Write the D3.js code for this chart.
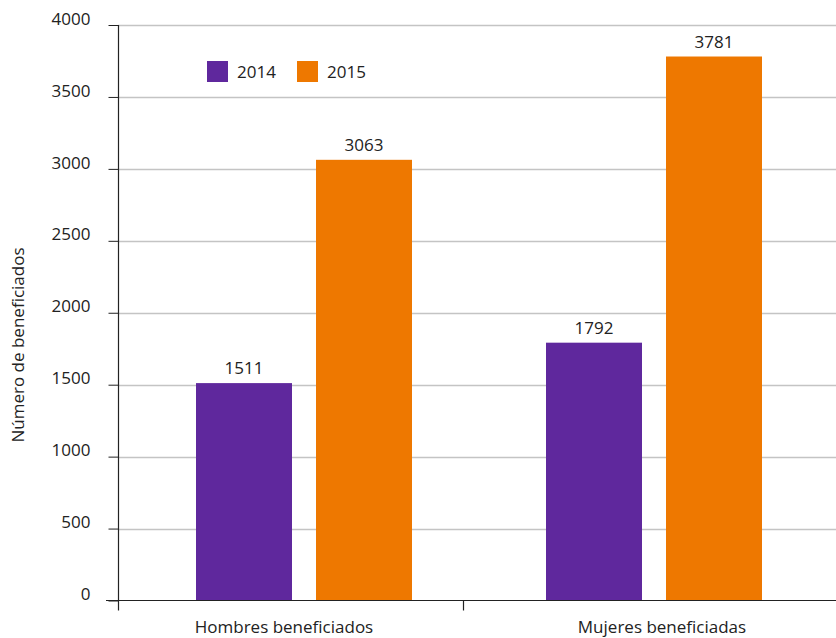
<!DOCTYPE html>
<html>
<head>
<meta charset="utf-8">
<script src="https://cdn.jsdelivr.net/npm/d3@7"></script>
<style>
  html, body { margin: 0; padding: 0; background: #ffffff; }
  svg { display: block; font-family: "Open Sans", "Noto Sans", sans-serif; }
</style>
</head>
<body>
<svg id="chart" width="836" height="638"></svg>
<script>
// Beneficiaries by sex, 2014 vs 2015
const categories = ["Hombres beneficiados", "Mujeres beneficiadas"];
const years = ["2014", "2015"];
const values2014 = [1511, 1792];
const values2015 = [3063, 3781];
const yTicks = [0, 500, 1000, 1500, 2000, 2500, 3000, 3500, 4000];
const colors = ["#5f289d", "#ee7800"];
const yTitle = "Número de beneficiados";

const series = [values2014, values2015];
const svg = d3.select("#chart");
const fs = 17;

const axisX = 118, baseY = 600.5, topY = 25;

const y = d3.scaleLinear().domain([0, 4000]).range([baseY, topY]);

// category bands used for the bar groups
const x0 = d3.scaleBand().domain(categories).range([129, 829]);
const groupWidth = 216;
const x1 = d3.scaleBand().domain(years).range([0, groupWidth]).paddingInner(0.2);
// bands used for the category separators on the axis
const xSep = d3.scaleBand().domain(categories).range([axisX, 808]);
// category label anchors
const xLabel = d3.scalePoint().domain(categories).range([284, 662]);

// gridlines
svg.append("g")
  .selectAll("line")
  .data(yTicks.filter(t => t > 0))
  .join("line")
  .attr("x1", axisX).attr("x2", 836)
  .attr("y1", d => Math.round(y(d)) + 0.5).attr("y2", d => Math.round(y(d)) + 0.5)
  .attr("stroke", "#c4c4c4").attr("stroke-width", 1.5);

// y axis
const yAxis = d3.axisLeft(y).tickValues(yTicks).tickSize(10).tickPadding(18).tickFormat(d3.format("d"));
const gy = svg.append("g").attr("transform", `translate(${axisX + 0.5},0)`).call(yAxis);
gy.select(".domain").remove();
gy.selectAll(".tick line").attr("stroke", "#222");
gy.selectAll(".tick text")
  .attr("fill", "#222").attr("font-size", fs).attr("dy", "-0.05em")
  .attr("font-family", "Open Sans, Noto Sans, sans-serif");
svg.append("line")
  .attr("x1", axisX + 0.5).attr("x2", axisX + 0.5)
  .attr("y1", topY).attr("y2", baseY + 10)
  .attr("stroke", "#222").attr("stroke-width", 1.2);

// bars
const groups = svg.append("g")
  .selectAll("g")
  .data(categories)
  .join("g")
  .attr("transform", c => `translate(${x0(c) + (x0.bandwidth() - groupWidth) / 2},0)`);

groups.selectAll("rect")
  .data((c, i) => years.map((yr, j) => ({ yr, j, v: series[j][i] })))
  .join("rect")
  .attr("x", d => x1(d.yr))
  .attr("width", x1.bandwidth())
  .attr("y", d => y(d.v))
  .attr("height", d => baseY - y(d.v))
  .attr("fill", d => colors[d.j]);

groups.selectAll("text")
  .data((c, i) => years.map((yr, j) => ({ yr, j, v: series[j][i] })))
  .join("text")
  .attr("x", d => x1(d.yr) + x1.bandwidth() / 2)
  .attr("y", d => y(d.v) - 9)
  .attr("text-anchor", "middle")
  .attr("font-size", fs)
  .attr("fill", "#222")
  .text(d => d.v);

// baseline and category separators
svg.append("line")
  .attr("x1", 106).attr("x2", 836)
  .attr("y1", baseY).attr("y2", baseY)
  .attr("stroke", "#222").attr("stroke-width", 1.2);
svg.append("g")
  .selectAll("line")
  .data(categories.slice(1))
  .join("line")
  .attr("x1", c => xSep(c) + 0.5).attr("x2", c => xSep(c) + 0.5)
  .attr("y1", baseY).attr("y2", baseY + 10)
  .attr("stroke", "#222").attr("stroke-width", 1.2);

// category labels
svg.append("g")
  .selectAll("text")
  .data(categories)
  .join("text")
  .attr("x", c => xLabel(c))
  .attr("y", 633)
  .attr("text-anchor", "middle")
  .attr("font-size", fs)
  .attr("fill", "#222")
  .text(c => c);

// y axis title
svg.append("text")
  .attr("transform", "translate(24,345) rotate(-90)")
  .attr("text-anchor", "middle")
  .attr("font-size", fs)
  .attr("fill", "#222")
  .text(yTitle);

// legend
const legend = svg.append("g").attr("transform", "translate(207,61)");
const legendX = d3.scalePoint().domain(years).range([0, 90]);
const li = legend.selectAll("g").data(years).join("g")
  .attr("transform", yr => `translate(${legendX(yr)},0)`);
li.append("rect").attr("width", 21).attr("height", 21).attr("fill", (yr, i) => colors[i]);
li.append("text").attr("x", 30).attr("y", 16.5).attr("font-size", fs).attr("fill", "#222").text(yr => yr);
</script>
</body>
</html>
